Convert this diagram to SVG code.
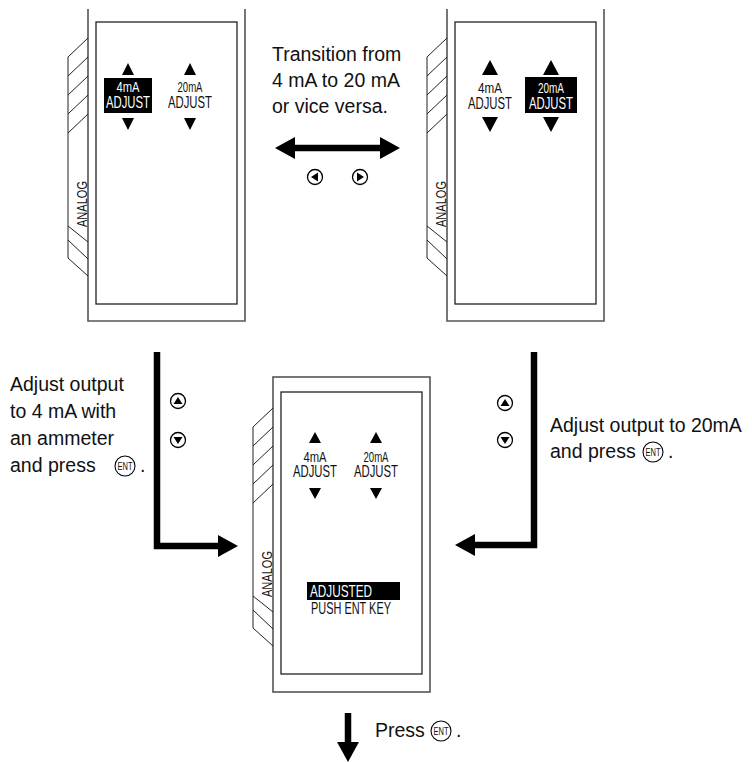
<svg xmlns="http://www.w3.org/2000/svg" width="752" height="762" viewBox="0 0 752 762">
<style>
.t{font-family:"Liberation Sans",Arial,sans-serif;font-size:19.5px;fill:#111}
.s{font-family:"Liberation Sans",Arial,sans-serif;fill:#111}
.w{fill:#fff}
.outer{fill:none;stroke:#555;stroke-width:1.6}
.inner{fill:none;stroke:#222;stroke-width:1.3}
.hatch{fill:none;stroke:#222;stroke-width:1}
.thick{fill:none;stroke:#000;stroke-width:6.5;stroke-linejoin:miter;stroke-linecap:butt}
.btn{fill:#fff;stroke:#000;stroke-width:1.3}
.ent{font-family:"Liberation Sans",Arial,sans-serif;font-size:10px;fill:#111}
</style>
<defs>
<marker id="ah" viewBox="0 0 20 22" refX="0" refY="11" markerWidth="20" markerHeight="22" markerUnits="userSpaceOnUse" orient="auto-start-reverse">
<path d="M0,0 L20,11 L0,22 Z" fill="#000"/>
</marker>
<g id="hatch">
<path class="hatch" d="M-20,50 V251 M-20,50 L0,31 M-20,69 L0,50 M-20,88 L0,69 M-20,107 L0,88 M-20,126 L0,107 M-20,219 L0,235 M-20,233 L0,252 M-20,251 L0,269"/>
<text class="s" font-size="15" transform="translate(-1.5,197) rotate(-90)" text-anchor="middle" textLength="46" lengthAdjust="spacingAndGlyphs">ANALOG</text>
</g>
<g id="ent">
<circle r="10" fill="#fff" stroke="#000" stroke-width="1.1"/>
<text class="ent" y="3.6" text-anchor="middle" textLength="15" lengthAdjust="spacingAndGlyphs">ENT</text>
</g>
</defs>

<g id="device-4mA" transform="translate(88,7)">
<path class="outer" d="M0,2 V314 H157 V2"/>
<rect class="inner" x="8" y="15" width="141" height="282"/>
<use href="#hatch"/>
<path d="M34,68 L46,68 L40,56 Z M34,111 L46,111 L40,123 Z M96,68 L108,68 L102,56 Z M96,111 L108,111 L102,123 Z" fill="#000"/>
<rect x="16" y="71" width="48" height="35" fill="#000"/>
<text class="s w" x="40" y="85" font-size="15" text-anchor="middle" textLength="23" lengthAdjust="spacingAndGlyphs">4mA</text>
<text class="s w" x="40" y="101" font-size="17" text-anchor="middle" textLength="44" lengthAdjust="spacingAndGlyphs">ADJUST</text>
<text class="s" x="102" y="85" font-size="15" text-anchor="middle" textLength="25" lengthAdjust="spacingAndGlyphs">20mA</text>
<text class="s" x="102" y="101" font-size="17" text-anchor="middle" textLength="44" lengthAdjust="spacingAndGlyphs">ADJUST</text>
</g>

<g id="device-20mA" transform="translate(447,7)">
<path class="outer" d="M0,2 V314 H157 V2"/>
<rect class="inner" x="8" y="15" width="141" height="282"/>
<use href="#hatch"/>
<path d="M35,68 L51,68 L43,53 Z M35,110 L51,110 L43,125 Z M96,68 L112,68 L104,53 Z M96,110 L112,110 L104,125 Z" fill="#000"/>
<rect x="78" y="70" width="52" height="36" fill="#000"/>
<text class="s" x="43" y="86" font-size="15" text-anchor="middle" textLength="24" lengthAdjust="spacingAndGlyphs">4mA</text>
<text class="s" x="43" y="102" font-size="17" text-anchor="middle" textLength="44" lengthAdjust="spacingAndGlyphs">ADJUST</text>
<text class="s w" x="104" y="86" font-size="15" text-anchor="middle" textLength="26" lengthAdjust="spacingAndGlyphs">20mA</text>
<text class="s w" x="104" y="102" font-size="17" text-anchor="middle" textLength="44" lengthAdjust="spacingAndGlyphs">ADJUST</text>
</g>

<g id="device-adjusted" transform="translate(273,377)">
<rect class="outer" x="0" y="0" width="157" height="315"/>
<rect class="inner" x="8" y="15" width="141" height="282"/>
<use href="#hatch"/>
<path d="M36,66 L48,66 L42,55 Z M36,111 L48,111 L42,122 Z M97,66 L109,66 L103,55 Z M97,111 L109,111 L103,122 Z" fill="#000"/>
<text class="s" x="42" y="85" font-size="15" text-anchor="middle" textLength="23" lengthAdjust="spacingAndGlyphs">4mA</text>
<text class="s" x="42" y="100" font-size="17" text-anchor="middle" textLength="44" lengthAdjust="spacingAndGlyphs">ADJUST</text>
<text class="s" x="103" y="85" font-size="15" text-anchor="middle" textLength="25" lengthAdjust="spacingAndGlyphs">20mA</text>
<text class="s" x="103" y="100" font-size="17" text-anchor="middle" textLength="44" lengthAdjust="spacingAndGlyphs">ADJUST</text>
<rect x="34" y="205" width="93" height="18" fill="#000"/>
<text class="s w" x="37" y="220" font-size="17" textLength="62" lengthAdjust="spacingAndGlyphs">ADJUSTED</text>
<text class="s" x="38" y="237" font-size="17" textLength="80" lengthAdjust="spacingAndGlyphs">PUSH ENT KEY</text>
</g>

<g id="connectors">
<path class="thick" d="M295,148 H380" marker-start="url(#ah)" marker-end="url(#ah)"/>
<path class="thick" d="M157,352 V546 H218" marker-end="url(#ah)"/>
<path class="thick" d="M534,352 V545 H475" marker-end="url(#ah)"/>
<path class="thick" d="M348,713 V742" marker-end="url(#ah)"/>
</g>

<g id="buttons">
<circle class="btn" cx="315" cy="177" r="7.5"/><path d="M318,172.5 V181.5 L311,177 Z" fill="#000"/>
<circle class="btn" cx="360" cy="177" r="7.5"/><path d="M357,172.5 V181.5 L364,177 Z" fill="#000"/>
<circle class="btn" cx="178" cy="401" r="7.5"/><path d="M173.5,404 H182.5 L178,397 Z" fill="#000"/>
<circle class="btn" cx="178" cy="440" r="7.5"/><path d="M173.5,437 H182.5 L178,444 Z" fill="#000"/>
<circle class="btn" cx="505" cy="403" r="7.5"/><path d="M500.5,406 H509.5 L505,399 Z" fill="#000"/>
<circle class="btn" cx="505" cy="440" r="7.5"/><path d="M500.5,437 H509.5 L505,444 Z" fill="#000"/>
</g>

<g id="label-transition">
<text class="t" x="272" y="61">Transition from</text>
<text class="t" x="272" y="87">4 mA to 20 mA</text>
<text class="t" x="272" y="113">or vice versa.</text>
</g>

<g id="label-4mA">
<text class="t" x="10" y="391">Adjust output</text>
<text class="t" x="10" y="418">to 4 mA with</text>
<text class="t" x="10" y="445">an ammeter</text>
<text class="t" x="10" y="472">and press</text>
<use href="#ent" x="125" y="466"/>
<text class="t" x="140" y="472">.</text>
</g>

<g id="label-20mA">
<text class="t" x="550" y="432" font-size="20">Adjust output to 20mA</text>
<text class="t" x="550" y="458" font-size="20">and press</text>
<use href="#ent" x="653" y="452"/>
<text class="t" x="668" y="458" font-size="20">.</text>
</g>

<g id="label-press">
<text class="t" x="375" y="737">Press</text>
<use href="#ent" x="441" y="731"/>
<text class="t" x="456" y="737">.</text>
</g>
</svg>
